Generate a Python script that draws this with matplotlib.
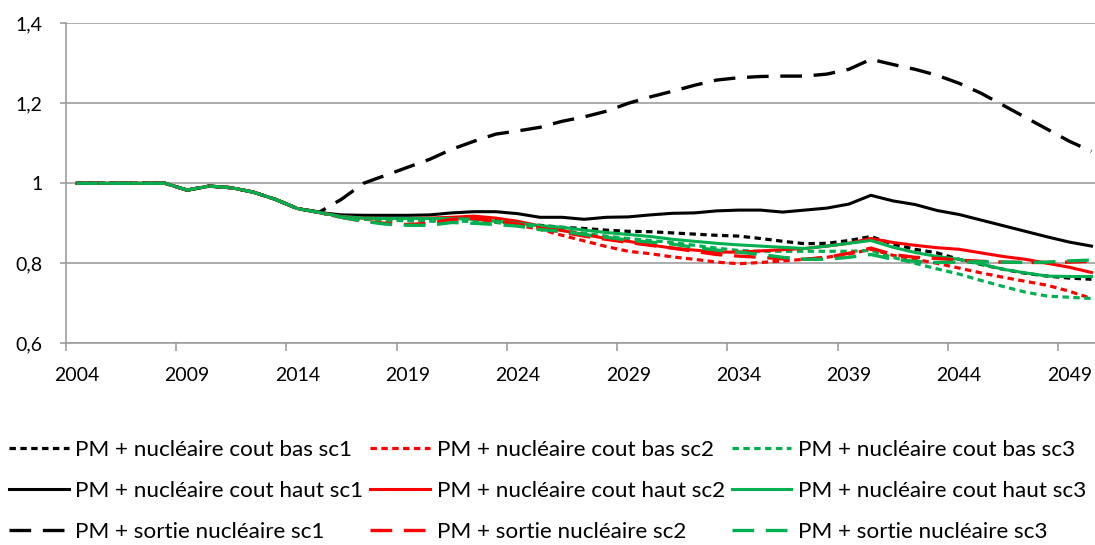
import matplotlib

matplotlib.use("Agg")
import matplotlib.pyplot as plt

# ---------------------------------------------------------------------------
# Data (index, 2004 = 1)
# ---------------------------------------------------------------------------
years = list(range(2004, 2051))

bas_sc1 = [1.0, 1.0, 1.0, 1.0, 1.0, 0.983, 0.993, 0.989, 0.978, 0.960, 0.937, 0.927,
           0.917, 0.913, 0.912, 0.911, 0.911, 0.913, 0.912, 0.908, 0.900, 0.895,
           0.890, 0.887, 0.883, 0.880, 0.879, 0.876, 0.873, 0.870, 0.868, 0.862,
           0.855, 0.849, 0.850, 0.857, 0.867, 0.848, 0.835, 0.826, 0.810, 0.797,
           0.785, 0.775, 0.768, 0.763, 0.760]
bas_sc2 = [1.0, 1.0, 1.0, 1.0, 1.0, 0.983, 0.993, 0.989, 0.978, 0.960, 0.937, 0.927,
           0.915, 0.910, 0.908, 0.907, 0.908, 0.910, 0.910, 0.903, 0.895, 0.885,
           0.870, 0.856, 0.842, 0.830, 0.824, 0.816, 0.810, 0.803, 0.799, 0.802,
           0.806, 0.810, 0.815, 0.823, 0.835, 0.820, 0.810, 0.800, 0.788, 0.776,
           0.765, 0.755, 0.745, 0.730, 0.712]
bas_sc3 = [1.0, 1.0, 1.0, 1.0, 1.0, 0.983, 0.993, 0.989, 0.978, 0.960, 0.937, 0.927,
           0.915, 0.910, 0.908, 0.906, 0.905, 0.905, 0.905, 0.902, 0.897, 0.890,
           0.882, 0.875, 0.868, 0.862, 0.857, 0.852, 0.845, 0.838, 0.832, 0.830,
           0.830, 0.830, 0.830, 0.830, 0.832, 0.815, 0.800, 0.786, 0.773, 0.757,
           0.742, 0.728, 0.718, 0.715, 0.712]
haut_sc1 = [1.0, 1.0, 1.0, 1.0, 1.0, 0.983, 0.993, 0.989, 0.978, 0.960, 0.937, 0.927,
            0.921, 0.920, 0.920, 0.920, 0.921, 0.926, 0.929, 0.929, 0.924, 0.915,
            0.915, 0.910, 0.915, 0.916, 0.921, 0.925, 0.926, 0.931, 0.933, 0.933,
            0.928, 0.933, 0.938, 0.948, 0.970, 0.956, 0.947, 0.932, 0.922, 0.908,
            0.894, 0.880, 0.866, 0.853, 0.843]
haut_sc2 = [1.0, 1.0, 1.0, 1.0, 1.0, 0.983, 0.993, 0.989, 0.978, 0.960, 0.937, 0.927,
            0.917, 0.913, 0.912, 0.912, 0.913, 0.915, 0.918, 0.913, 0.905, 0.893,
            0.882, 0.872, 0.862, 0.855, 0.846, 0.838, 0.833, 0.828, 0.828, 0.831,
            0.834, 0.837, 0.843, 0.850, 0.862, 0.852, 0.845, 0.839, 0.835, 0.826,
            0.817, 0.810, 0.800, 0.790, 0.777]
haut_sc3 = [1.0, 1.0, 1.0, 1.0, 1.0, 0.983, 0.993, 0.989, 0.978, 0.960, 0.937, 0.927,
            0.917, 0.913, 0.912, 0.912, 0.912, 0.912, 0.910, 0.905, 0.900, 0.894,
            0.890, 0.883, 0.877, 0.872, 0.867, 0.860, 0.855, 0.850, 0.846, 0.843,
            0.840, 0.837, 0.843, 0.850, 0.857, 0.840, 0.827, 0.817, 0.810, 0.798,
            0.785, 0.776, 0.768, 0.767, 0.767]
sortie_sc1 = [1.0, 1.0, 1.0, 1.0, 1.0, 0.983, 0.993, 0.989, 0.978, 0.960, 0.937, 0.928,
              0.960, 1.000, 1.020, 1.040, 1.060, 1.085, 1.105, 1.123, 1.131, 1.140,
              1.155, 1.166, 1.180, 1.200, 1.216, 1.230, 1.245, 1.258, 1.264, 1.267,
              1.268, 1.268, 1.273, 1.285, 1.310, 1.297, 1.285, 1.270, 1.250, 1.225,
              1.195, 1.165, 1.135, 1.105, 1.080]
sortie_sc2 = [1.0, 1.0, 1.0, 1.0, 1.0, 0.983, 0.993, 0.989, 0.978, 0.960, 0.937, 0.927,
              0.915, 0.905, 0.900, 0.897, 0.900, 0.910, 0.912, 0.905, 0.898, 0.888,
              0.878, 0.868, 0.860, 0.852, 0.845, 0.838, 0.830, 0.822, 0.818, 0.815,
              0.811, 0.810, 0.815, 0.825, 0.838, 0.822, 0.815, 0.812, 0.808, 0.805,
              0.803, 0.802, 0.802, 0.803, 0.805]
sortie_sc3 = [1.0, 1.0, 1.0, 1.0, 1.0, 0.983, 0.993, 0.989, 0.978, 0.960, 0.937, 0.927,
              0.915, 0.905, 0.898, 0.895, 0.895, 0.902, 0.900, 0.897, 0.893, 0.884,
              0.880, 0.872, 0.865, 0.858, 0.853, 0.848, 0.840, 0.833, 0.828, 0.822,
              0.815, 0.810, 0.810, 0.815, 0.822, 0.810, 0.805, 0.802, 0.803, 0.804,
              0.803, 0.802, 0.803, 0.806, 0.808]

x_labels = ["2004", "2009", "2014", "2019", "2024", "2029", "2034", "2039", "2044", "2049"]
y_values = [0.6, 0.8, 1.0, 1.2, 1.4]
y_labels = ["0,6", "0,8", "1", "1,2", "1,4"]

# ---------------------------------------------------------------------------
# Styles
# ---------------------------------------------------------------------------
C_SC1 = "#000000"
C_SC2 = "#FF0000"
C_SC3 = "#00B050"
GRID = "#969696"

DOT = (0, (2.0, 1.4))
DASH = (0, (6.5, 3.5))

plt.rcParams["font.family"] = ["Lato", "DejaVu Sans"]

W, H = 1095, 545
fig = plt.figure(figsize=(W / 100, H / 100), dpi=100)
ax = fig.add_axes([65.7 / W, 1 - 343.3 / H, 1 - 65.7 / W, 320 / H])

series = [
    (bas_sc1, C_SC1, DOT, 2.3, "PM + nucléaire cout bas sc1"),
    (bas_sc2, C_SC2, DOT, 2.3, "PM + nucléaire cout bas sc2"),
    (bas_sc3, C_SC3, DOT, 2.3, "PM + nucléaire cout bas sc3"),
    (haut_sc1, C_SC1, "-", 2.2, "PM + nucléaire cout haut sc1"),
    (haut_sc2, C_SC2, "-", 2.2, "PM + nucléaire cout haut sc2"),
    (haut_sc3, C_SC3, "-", 2.2, "PM + nucléaire cout haut sc3"),
    (sortie_sc1, C_SC1, DASH, 2.4, "PM + sortie nucléaire sc1"),
    (sortie_sc2, C_SC2, DASH, 2.4, "PM + sortie nucléaire sc2"),
    (sortie_sc3, C_SC3, DASH, 2.4, "PM + sortie nucléaire sc3"),
]

lines = {}
for vals, color, ls, lw, label in series:
    (ln,) = ax.plot(years, vals, color=color, linestyle=ls, linewidth=lw,
                    dash_capstyle="butt", solid_joinstyle="round", label=label)
    lines[label] = ln

# axes
ax.set_ylim(0.6, 1.4)
ax.set_xlim(2003.5, 2003.5 + (W - 65.7) / 22.06)
ax.set_yticks(y_values)
ax.set_yticklabels(y_labels)
ax.grid(axis="y", color=GRID, linewidth=1.1)
ax.set_axisbelow(True)

# tick marks between categories, labels centred on categories
label_pos = [int(s) for s in x_labels]
ax.set_xticks([p - 0.5 for p in label_pos])
ax.set_xticklabels([])
ax.set_xticks(label_pos, minor=True)
ax.set_xticklabels(x_labels, minor=True)
ax.tick_params(axis="x", which="major", length=6, width=1.1, color=GRID)
ax.tick_params(axis="x", which="minor", length=0, pad=17, labelsize=14)
ax.tick_params(axis="y", length=4.5, width=1.1, color=GRID, pad=12, labelsize=14)

for s in ["top", "right"]:
    ax.spines[s].set_visible(False)
for s in ["left", "bottom"]:
    ax.spines[s].set_color(GRID)
    ax.spines[s].set_linewidth(1.1)

# legend: one column per scenario
order = [0, 3, 6, 1, 4, 7, 2, 5, 8]
handles = [lines[series[i][4]] for i in order]
labels = [series[i][4] for i in order]
fig.legend(handles, labels, ncol=3, loc="upper left",
           bbox_to_anchor=(0.0, 1 - 431 / H), frameon=False,
           fontsize=16.2, handlelength=2.65, handletextpad=0.3,
           columnspacing=0.3, labelspacing=0.93, borderaxespad=0.0)

fig.savefig("out.png", dpi=100)
